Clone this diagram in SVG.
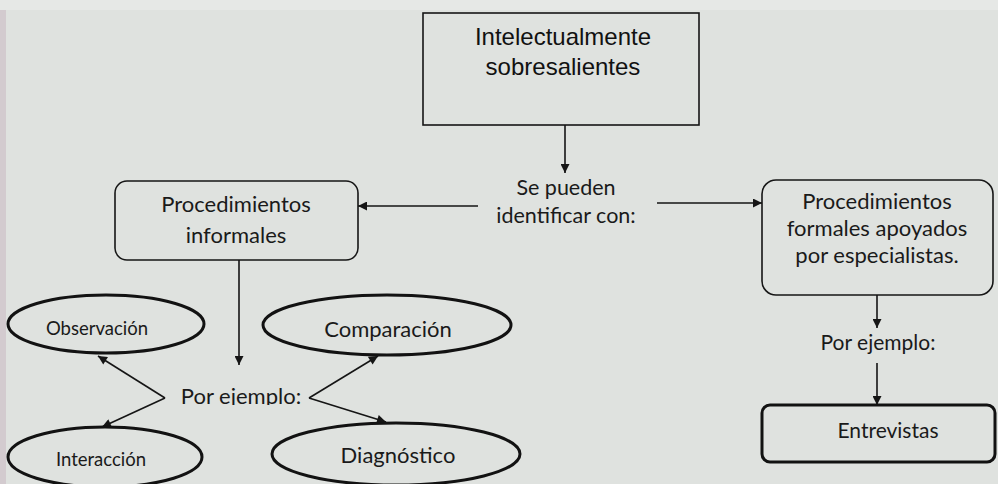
<svg xmlns="http://www.w3.org/2000/svg" width="998" height="484" viewBox="0 0 998 484">
<style>
.box{fill:#dfe2df;stroke:#161616;stroke-width:1.6;}
.ell{fill:#dfe2df;stroke:#121212;stroke-width:3;}
.lbl{font-family:Lato,"Open Sans",sans-serif;fill:#1a1a1a;text-anchor:middle;}
.ar{fill:none;stroke:#151515;stroke-width:1.6;marker-end:url(#ah);}
</style>
<defs>
<marker id="ah" viewBox="0 0 10 10" refX="10" refY="5" markerWidth="10" markerHeight="9" markerUnits="userSpaceOnUse" orient="auto"><path d="M0,0 L10,5 L0,10 z" fill="#151515"/></marker>
<clipPath id="cut"><rect x="150" y="370" width="180" height="35"/></clipPath>
</defs>
<rect x="0" y="0" width="998" height="484" fill="#dfe2df"/>
<rect x="0" y="0" width="998" height="10" fill="#e6e8e6"/>
<rect x="0" y="10" width="6" height="474" fill="#d3cbcf"/>

<g id="connectors">
<line class="ar" x1="565" y1="125" x2="565" y2="173"/>
<line class="ar" x1="478" y1="206" x2="358" y2="206"/>
<line class="ar" x1="657" y1="203" x2="762" y2="203"/>
<line class="ar" x1="239" y1="260" x2="239" y2="365"/>
<line class="ar" x1="165" y1="398" x2="98" y2="356"/>
<line class="ar" x1="165" y1="398" x2="102" y2="427"/>
<line class="ar" x1="309" y1="398" x2="378" y2="356"/>
<line class="ar" x1="309" y1="398" x2="386" y2="422"/>
<line class="ar" x1="877" y1="295" x2="877" y2="328"/>
<line class="ar" x1="877" y1="363" x2="877" y2="405"/>
</g>

<g id="node-top">
<rect class="box" x="423" y="13" width="276" height="112"/>
<text x="563" y="45" font-family="'Liberation Sans',Arial,sans-serif" font-size="24" fill="#111" text-anchor="middle">Intelectualmente</text>
<text x="563" y="75" font-family="'Liberation Sans',Arial,sans-serif" font-size="24" fill="#111" text-anchor="middle">sobresalientes</text>
</g>

<g id="label-identificar">
<text class="lbl" x="566" y="195" font-size="21.5">Se pueden</text>
<text class="lbl" x="566" y="223" font-size="21.5">identificar con:</text>
</g>

<g id="node-informales">
<rect class="box" x="115" y="181" width="243" height="79" rx="12"/>
<text class="lbl" x="236" y="212" font-size="22">Procedimientos</text>
<text class="lbl" x="236" y="243" font-size="22">informales</text>
</g>

<g id="node-formales">
<rect class="box" x="762" y="180" width="231" height="115" rx="14"/>
<text class="lbl" x="877" y="209" font-size="22">Procedimientos</text>
<text class="lbl" x="877" y="236" font-size="22">formales apoyados</text>
<text class="lbl" x="877" y="263" font-size="22">por especialistas.</text>
</g>

<g id="label-ejemplo-left">
<text class="lbl" x="241" y="404" font-size="22" clip-path="url(#cut)">Por ejemplo:</text>
</g>

<g id="node-observacion">
<ellipse class="ell" cx="106" cy="324" rx="98" ry="29"/>
<text class="lbl" x="97" y="335" font-size="18.5">Observación</text>
</g>

<g id="node-comparacion">
<ellipse class="ell" cx="387" cy="325" rx="124" ry="30"/>
<text class="lbl" x="388" y="337" font-size="22">Comparación</text>
</g>

<g id="node-interaccion">
<ellipse class="ell" cx="105" cy="457" rx="97" ry="30"/>
<text class="lbl" x="101" y="466" font-size="18.5">Interacción</text>
</g>

<g id="node-diagnostico">
<ellipse class="ell" cx="396" cy="454" rx="124" ry="31"/>
<text class="lbl" x="398" y="463" font-size="22">Diagnóstico</text>
</g>

<g id="label-ejemplo-right">
<text class="lbl" x="878" y="350" font-size="21">Por ejemplo:</text>
</g>

<g id="node-entrevistas">
<rect x="762" y="405" width="233" height="57" rx="8" fill="#dfe2df" stroke="#121212" stroke-width="3"/>
<text class="lbl" x="888" y="438" font-size="21">Entrevistas</text>
</g>
</svg>
